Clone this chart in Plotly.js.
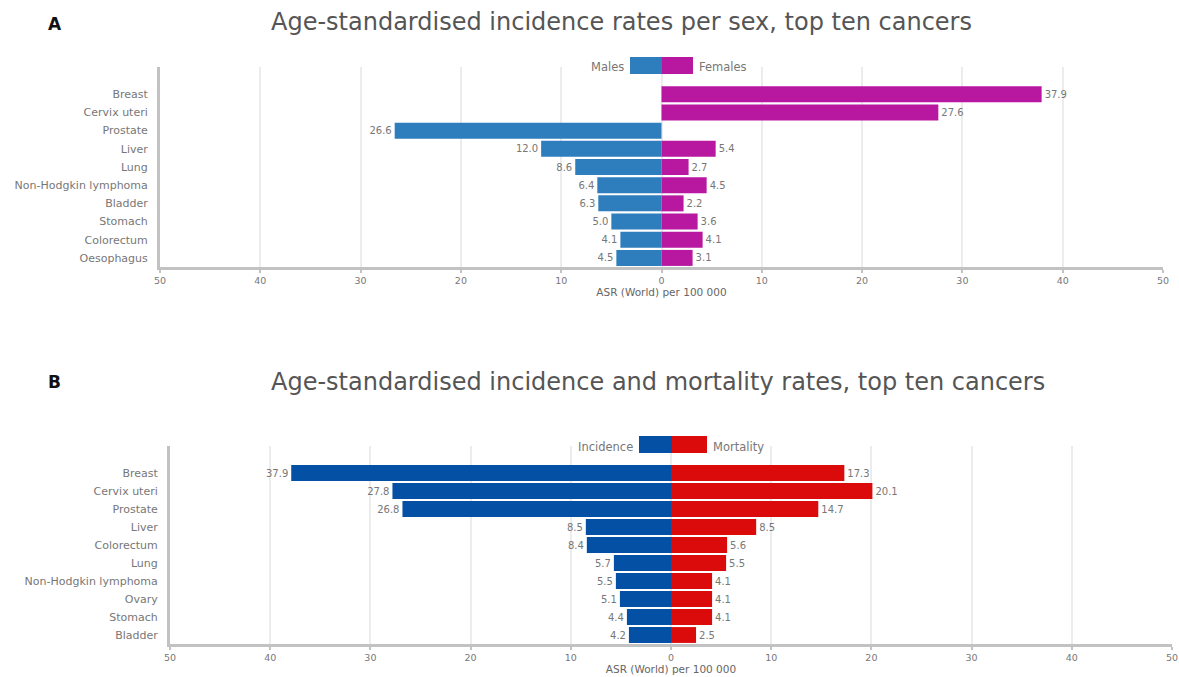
<!DOCTYPE html>
<html><head><meta charset="utf-8">
<script src="https://cdn.plot.ly/plotly-3.0.1.min.js"></script>
<style>html,body{margin:0;padding:0;background:#fff}</style>
</head><body><div id="chart" style="width:1179px;height:677px"></div>
<script>
// ---- data ----
const catsA = ["Breast","Cervix uteri","Prostate","Liver","Lung","Non-Hodgkin lymphoma","Bladder","Stomach","Colorectum","Oesophagus"];
const males = [null,null,26.6,12.0,8.6,6.4,6.3,5.0,4.1,4.5];
const females = [37.9,27.6,null,5.4,2.7,4.5,2.2,3.6,4.1,3.1];
const catsB = ["Breast","Cervix uteri","Prostate","Liver","Colorectum","Lung","Non-Hodgkin lymphoma","Ovary","Stomach","Bladder"];
const incidence = [37.9,27.8,26.8,8.5,8.4,5.7,5.5,5.1,4.4,4.2];
const mortality = [17.3,20.1,14.7,8.5,5.6,5.5,4.1,4.1,4.1,2.5];
const tickVals = [-50,-40,-30,-20,-10,0,10,20,30,40,50];
const tickText = ["50","40","30","20","10","0","10","20","30","40","50"];
const titleA = "Age-standardised incidence rates per sex, top ten cancers";
const titleB = "Age-standardised incidence and mortality rates, top ten cancers";
const axisTitle = "ASR (World) per 100 000";

// ---- helpers ----
const W = 1179, H = 677;
const px = x => x / W;
const py = y => 1 - y / H;
const FONT = "DejaVu Sans, Arial, sans-serif";
const lbl = v => v == null ? "" : v.toFixed(1);
const neg = v => v == null ? null : -v;

const colMale = "#2e7ebe", colFemale = "#b8179f", colInc = "#0450a5", colMort = "#dc0b0b";

function barTrace(cats, vals, sign, color, name, xa, ya) {
  return {
    type: "bar", orientation: "h", name: name,
    y: cats, x: sign < 0 ? vals.map(neg) : vals,
    text: vals.map(lbl), textposition: "outside", cliponaxis: false,
    constraintext: "none",
    textfont: {family: FONT, size: 10, color: "#777"},
    marker: {color: color, line: {width: 0}},
    xaxis: xa, yaxis: ya, hoverinfo: "skip", showlegend: false
  };
}

const traces = [
  barTrace(catsA, males, -1, colMale, "Males", "x", "y"),
  barTrace(catsA, females, 1, colFemale, "Females", "x", "y"),
  barTrace(catsB, incidence, -1, colInc, "Incidence", "x2", "y2"),
  barTrace(catsB, mortality, 1, colMort, "Mortality", "x2", "y2")
];

function xAxis(d0, d1, anchor, standoff) {
  return {
    domain: [px(d0), px(d1)], anchor: anchor, range: [-50, 50],
    tickvals: tickVals, ticktext: tickText,
    showgrid: true, gridcolor: "#ececec", gridwidth: 2, zeroline: false,
    showline: true, linecolor: "#c2c2c2", linewidth: 3,
    ticks: "outside", ticklen: 3, tickwidth: 2, tickcolor: "#c2c2c2",
    tickfont: {family: FONT, size: 9.5, color: "#777"},
    title: {text: axisTitle, font: {family: FONT, size: 10.5, color: "#666"}, standoff: standoff},
    fixedrange: true
  };
}
function yAxis(top, bottom, anchor, cats) {
  return {
    domain: [py(bottom), py(top)], anchor: anchor, type: "category",
    categoryorder: "array", categoryarray: cats, range: [9.5, -1.5],
    showgrid: false, zeroline: false, showline: true, linecolor: "#c2c2c2", linewidth: 3,
    ticks: "", ticklabelstandoff: 7,
    tickfont: {family: FONT, size: 11, color: "#777"}, fixedrange: true
  };
}

const ann = [];
function text(t, x, y, xanchor, size, color, bold) {
  ann.push({xref: "paper", yref: "paper", x: px(x), y: py(y), xanchor: xanchor, yanchor: "middle",
    text: bold ? "<b>" + t + "</b>" : t, showarrow: false,
    font: {family: FONT, size: size, color: color}});
}
text("A", 46, 24, "left", 17, "#111", true);
text("B", 46, 382, "left", 17, "#111", true);
text(titleA, 269, 22, "left", 24, "#555", false);
text(titleB, 269, 382, "left", 24, "#555", false);
text("Males", 626, 67, "right", 11.5, "#777", false);
text("Females", 697, 67, "left", 11.5, "#777", false);
text("Incidence", 635, 447, "right", 11.5, "#777", false);
text("Mortality", 711, 447, "left", 11.5, "#777", false);

function box(x0, x1, y0, y1, color) {
  return {type: "rect", xref: "paper", yref: "paper", x0: px(x0), x1: px(x1), y0: py(y1), y1: py(y0),
    fillcolor: color, line: {width: 0}, layer: "above"};
}
const shapes = [
  box(630, 662, 57, 74, colMale), box(662, 693, 57, 74, colFemale),
  box(639, 672, 436, 453, colInc), box(672, 707, 436, 453, colMort)
];

const layout = {
  width: W, height: H, margin: {l: 0, r: 0, t: 0, b: 0},
  paper_bgcolor: "#fff", plot_bgcolor: "#fff",
  barmode: "relative", bargap: 0.12,
  showlegend: false,
  xaxis: xAxis(160, 1163, "y", 3),
  yaxis: yAxis(67, 267, "x", catsA),
  xaxis2: xAxis(170, 1172, "y2", 4),
  yaxis2: yAxis(446, 644, "x2", catsB),
  annotations: ann, shapes: shapes
};

Plotly.newPlot("chart", traces, layout, {displayModeBar: false, staticPlot: true});
</script></body></html>
